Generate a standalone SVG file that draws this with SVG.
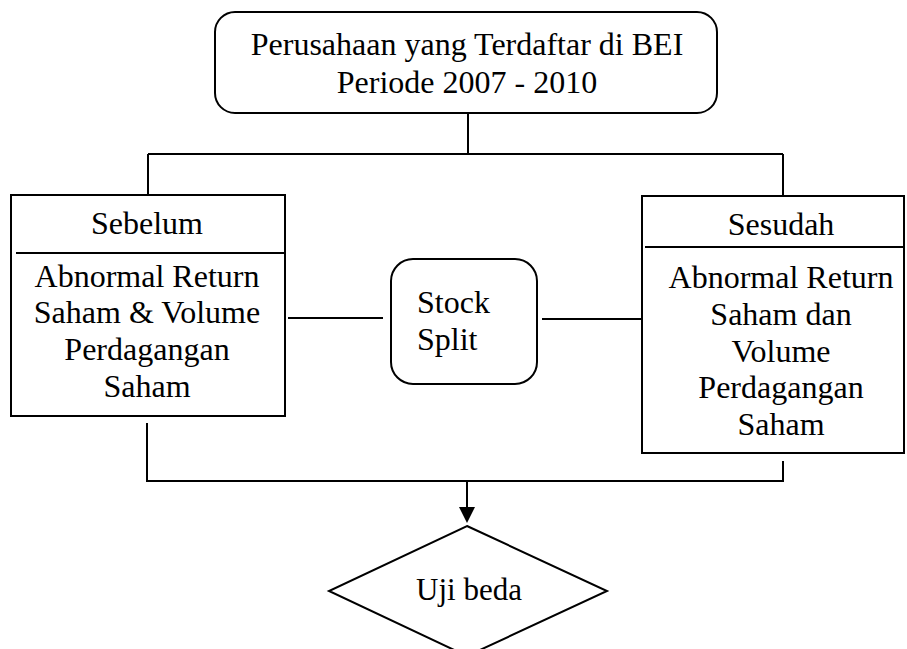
<svg xmlns="http://www.w3.org/2000/svg" width="907" height="649" viewBox="0 0 907 649">
<style>
.s{fill:#fff;stroke:#000;stroke-width:2}
.l{fill:none;stroke:#000;stroke-width:2}
text{font-family:'Liberation Serif','Times New Roman',serif;font-size:32px;fill:#000}
.c{text-anchor:middle}
</style>
<g id="connectors">
<path class="l" d="M468,113 V154 M148,154 H783 M148,154 V195 M783,154 V196"/>
<path class="l" d="M288,318 H383 M542,319 H642"/>
<path class="l" d="M147,423 V481 H783 V461"/>
<path d="M467,481 V507" class="l"/>
<path d="M459,507 L475,507 L467,523 Z" fill="#000"/>
</g>
<g id="top">
<rect class="s" x="215" y="12" width="502" height="101" rx="20"/>
<text class="c" x="467" y="55">Perusahaan yang Terdaftar di BEI</text>
<text class="c" x="467" y="93">Periode 2007 - 2010</text>
</g>
<g id="sebelum">
<rect class="s" x="11" y="195" width="274" height="221"/>
<path class="l" d="M16,253 H286"/>
<text class="c" x="147" y="234">Sebelum</text>
<text class="c" x="147" y="287">Abnormal Return</text>
<text class="c" x="147" y="323">Saham &amp; Volume</text>
<text class="c" x="147" y="360">Perdagangan</text>
<text class="c" x="147" y="397">Saham</text>
</g>
<g id="split">
<rect class="s" x="391" y="259" width="146" height="125" rx="22"/>
<text x="417" y="313">Stock</text>
<text x="417" y="350">Split</text>
</g>
<g id="sesudah">
<rect class="s" x="642" y="196" width="262" height="257"/>
<path class="l" d="M645,247 H905"/>
<text class="c" x="781" y="235">Sesudah</text>
<text class="c" x="781" y="288">Abnormal Return</text>
<text class="c" x="781" y="325">Saham dan</text>
<text class="c" x="781" y="362">Volume</text>
<text class="c" x="781" y="398">Perdagangan</text>
<text class="c" x="781" y="435">Saham</text>
</g>
<g id="uji">
<polygon class="s" points="467,526 607,591 467,656 329,591"/>
<text class="c" x="469" y="600" style="font-size:31px">Uji beda</text>
</g>
</svg>
